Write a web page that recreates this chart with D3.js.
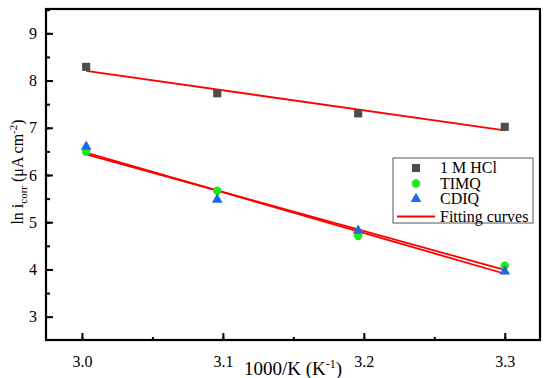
<!DOCTYPE html>
<html>
<head>
<meta charset="utf-8">
<script src="https://cdn.jsdelivr.net/npm/d3@7"></script>
<style>
  body { margin: 0; background: #fff; }
  svg, svg text { font-family: "Times New Roman", "Liberation Serif", "DejaVu Serif", serif !important; }
</style>
</head>
<body>
<div id="chart"></div>
<script>
// data
const xValues = [3.003, 3.096, 3.196, 3.3];
const hclValues = [8.29, 7.73, 7.305, 7.02];
const timqValues = [6.49, 5.665, 4.71, 4.08];
const cdiqValues = [6.6, 5.48, 4.82, 3.96];
const xTicks = [3.0, 3.1, 3.2, 3.3];
const yTicks = [3, 4, 5, 6, 7, 8, 9];
const legendLabels = ["1 M HCl", "TIMQ", "CDIQ", "Fitting curves"];

const width = 550, height = 378;
const margin = { top: 9, right: 10, bottom: 38, left: 46 };

const svg = d3.select("#chart").append("svg")
  .attr("width", width).attr("height", height);

const x = d3.scaleLinear().domain([2.9745, 3.325]).range([margin.left, width - margin.right]);
const y = d3.scaleLinear().domain([2.506, 9.515]).range([height - margin.bottom, margin.top]);

// least squares fit, as the "fitting curves" in the source
function fit(xs, ys) {
  const mx = d3.mean(xs), my = d3.mean(ys);
  let sxy = 0, sxx = 0;
  xs.forEach((v, i) => { sxy += (v - mx) * (ys[i] - my); sxx += (v - mx) ** 2; });
  const b = sxy / sxx;
  return v => my + b * (v - mx);
}

const series = [
  { name: legendLabels[0], values: hclValues, symbol: d3.symbolSquare, size: 66, color: "#4d4d4d" },
  { name: legendLabels[1], values: timqValues, symbol: d3.symbolCircle, size: 56, color: "#1ee81e" },
  { name: legendLabels[2], values: cdiqValues, symbol: d3.symbolTriangle, size: 50, color: "#1a6be0" }
];

// minor ticks
svg.append("g")
  .attr("transform", `translate(0,${height - margin.bottom})`)
  .call(d3.axisBottom(x).tickValues(d3.range(3.0, 3.33, 0.05)).tickSize(-3).tickFormat(""))
  .call(g => g.select(".domain").remove())
  .call(g => g.selectAll("line").attr("stroke-width", 2));
svg.append("g")
  .attr("transform", `translate(${margin.left},0)`)
  .call(d3.axisLeft(y).tickValues(d3.range(3, 9.6, 0.5)).tickSize(-4).tickFormat(""))
  .call(g => g.select(".domain").remove())
  .call(g => g.selectAll("line").attr("stroke-width", 2));

// major ticks
const xAxis = svg.append("g")
  .attr("transform", `translate(0,${height - margin.bottom})`)
  .call(d3.axisBottom(x).tickValues(xTicks).tickSize(-7).tickPadding(16).tickFormat(d3.format(".1f")));
xAxis.select(".domain").remove();
xAxis.selectAll("line").attr("stroke-width", 2);
xAxis.selectAll("text").attr("font-size", 16).attr("fill", "#000");

const yAxis = svg.append("g")
  .attr("transform", `translate(${margin.left},0)`)
  .call(d3.axisLeft(y).tickValues(yTicks).tickSize(-7).tickPadding(9).tickFormat(d3.format("d")));
yAxis.select(".domain").remove();
yAxis.selectAll("line").attr("stroke-width", 2);
yAxis.selectAll("text").attr("font-size", 16).attr("fill", "#000");

// frame
svg.append("rect")
  .attr("x", margin.left).attr("y", margin.top)
  .attr("width", width - margin.left - margin.right)
  .attr("height", height - margin.top - margin.bottom)
  .attr("fill", "none").attr("stroke", "#000").attr("stroke-width", 2.2);

// fitting lines
const line = d3.line().x(d => x(d[0])).y(d => y(d[1]));
series.forEach(s => {
  const f = fit(xValues, s.values);
  const ends = [xValues[0], xValues[xValues.length - 1]];
  svg.append("path")
    .attr("d", line(ends.map(v => [v, f(v)])))
    .attr("fill", "none").attr("stroke", "#ff0000").attr("stroke-width", 1.8);
});

// points
series.forEach(s => {
  svg.append("g").selectAll("path")
    .data(s.values)
    .join("path")
    .attr("transform", (d, i) => `translate(${x(xValues[i])},${y(d)})`)
    .attr("d", d3.symbol(s.symbol, s.size))
    .attr("fill", s.color);
});

// axis titles
const yTitle = svg.append("text")
  .attr("transform", "translate(23,172) rotate(-90)")
  .attr("text-anchor", "middle")
  .attr("font-size", 16);
yTitle.append("tspan").text("ln i");
yTitle.append("tspan").attr("font-size", 11).attr("dy", 4).text("corr");
yTitle.append("tspan").attr("dy", -4).text(" (\u03bcA cm");
yTitle.append("tspan").attr("font-size", 11).attr("dy", -6).text("-2");
yTitle.append("tspan").attr("dy", 6).text(")");

const xTitle = svg.append("text")
  .attr("x", 293).attr("y", 375)
  .attr("text-anchor", "middle")
  .attr("font-size", 19);
xTitle.append("tspan").text("1000/K (K");
xTitle.append("tspan").attr("font-size", 12).attr("dy", -7).text("-1");
xTitle.append("tspan").attr("dy", 7).text(")");

// legend
const legend = svg.append("g").attr("transform", "translate(393,158)");
legend.append("rect")
  .attr("width", 140).attr("height", 65)
  .attr("fill", "#fff").attr("stroke", "#555").attr("stroke-width", 1);
series.forEach((s, i) => {
  legend.append("path")
    .attr("transform", `translate(23,${10 + i * 15.5})`)
    .attr("d", d3.symbol(s.symbol, s.size))
    .attr("fill", s.color);
  legend.append("text")
    .attr("x", 47).attr("y", 10 + i * 15.5 + 5)
    .attr("font-size", 16)
    .text(s.name);
});
legend.append("line")
  .attr("x1", 4).attr("x2", 42).attr("y1", 58.5).attr("y2", 58.5)
  .attr("stroke", "#ff0000").attr("stroke-width", 2);
legend.append("text")
  .attr("x", 47).attr("y", 63.5)
  .attr("font-size", 16)
  .text(legendLabels[3]);
</script>
</body>
</html>
